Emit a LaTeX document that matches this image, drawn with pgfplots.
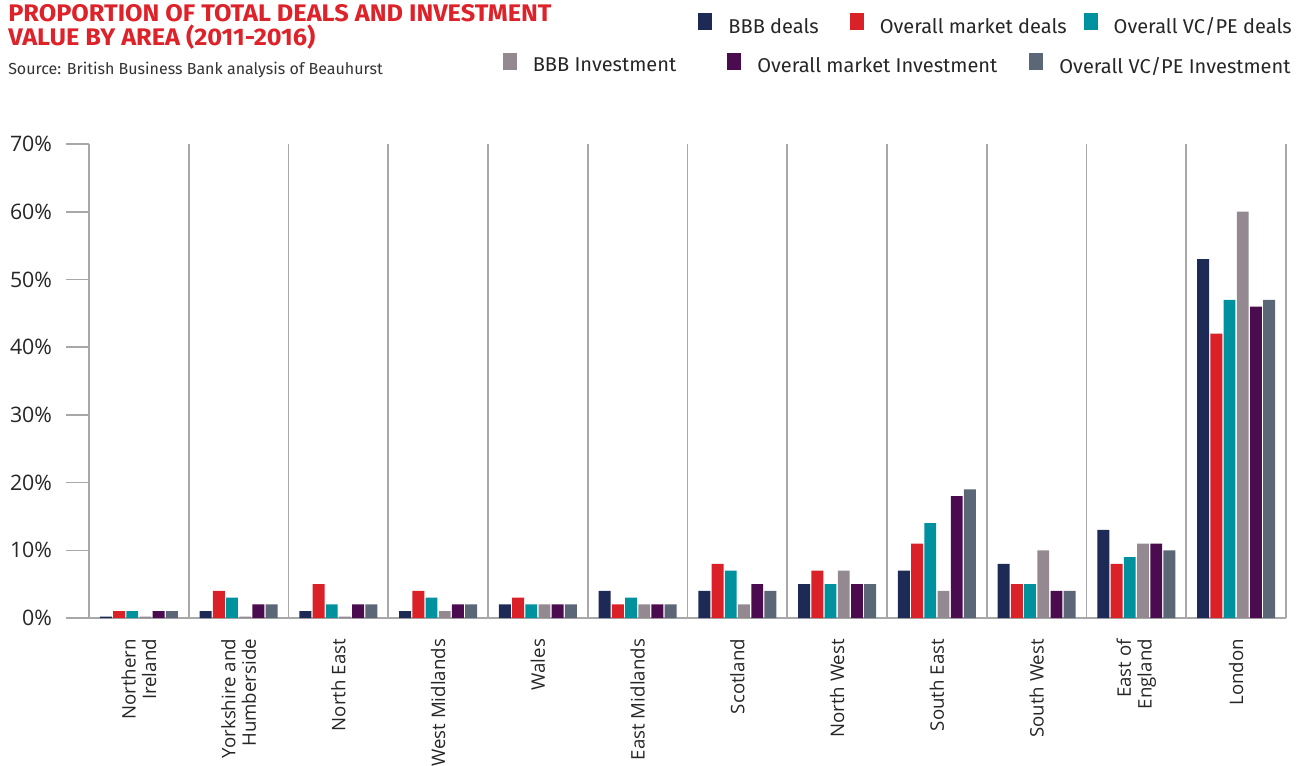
\documentclass[border=0pt]{standalone}
\usepackage{fontspec}
\setmainfont{Fira Sans}
\newfontfamily\opensans{Open Sans}
\usepackage{pgfplots}
\pgfplotsset{compat=1.18}
\definecolor{bbbdeals}{HTML}{1C2A55}
\definecolor{mktdeals}{HTML}{DA2128}
\definecolor{vcdeals}{HTML}{00919E}
\definecolor{bbbinv}{HTML}{948990}
\definecolor{mktinv}{HTML}{4A0C4F}
\definecolor{vcinv}{HTML}{5B6676}
\definecolor{titlered}{HTML}{DE2229}
\definecolor{axisgray}{HTML}{A8A8A8}
\pgfplotsset{
  sqlegend/.style={
    legend image code/.code={\fill[##1] (0pt,-2.8pt) rectangle (10.5pt,10pt);},
  },
}
\begin{document}
\begin{tikzpicture}
\useasboundingbox (0pt,0pt) rectangle (979.5pt,-573.75pt);
\node[anchor=base west, inner sep=0pt, font=\fontsize{18}{20}\selectfont\bfseries, text=titlered] at (6pt,-15.75pt) {\scalebox{1.055}[1]{PROPORTION OF TOTAL DEALS AND INVESTMENT}};
\node[anchor=base west, inner sep=0pt, font=\fontsize{18}{20}\selectfont\bfseries, text=titlered] at (6pt,-33.75pt) {\scalebox{1.055}[1]{VALUE BY AREA (2011-2016)}};
\node[anchor=base west, inner sep=0pt, font=\fontsize{12}{14}\selectfont, text=black!80] at (6pt,-55.5pt) {Source: British Business Bank analysis of Beauhurst};
\begin{axis}[
  at={(66.75pt,-463.5pt)}, anchor=south west,
  scale only axis, width=897.75pt, height=355.5pt,
  ybar=1pt, bar width=8.9pt,
  ymin=0, ymax=70, xmin=-0.5, xmax=11.5,
  enlargelimits=false,
  axis x line*=bottom, axis y line*=left,
  axis line style={draw=axisgray, line width=1.2pt},
  tick align=outside, major tick length=17.25pt,
  xtick={0,...,11},
  xticklabels={{Northern\\Ireland},{Yorkshire and\\Humberside},{North East},{West Midlands},{Wales},{East Midlands},{Scotland},{North West},{South East},{South West},{East of\\England},{London}},
  x tick label style={rotate=90, anchor=east, align=right, font=\opensans\fontsize{14}{15.5}\selectfont, text=black!85},
  xticklabel shift=-5pt,
  xtick style={draw=none},
  ytick={0,10,...,70},
  yticklabels={0\%,10\%,20\%,30\%,40\%,50\%,60\%,70\%},
  y tick label style={font=\opensans\fontsize{16}{18}\selectfont, text=black!85},
  yticklabel shift=7pt,
  ytick style={draw=axisgray, line width=1.2pt},
  extra x ticks={0.5,1.5,...,11.5},
  extra x tick labels={},
  extra x tick style={grid=major, major grid style={draw=axisgray, line width=1.2pt}, tick style={draw=none}},
  sqlegend,
  legend columns=3,
  legend style={at={(1.005,1.252)}, anchor=east, draw=none, fill=none, inner sep=0pt,
    font=\fontsize{15}{18}\selectfont, text=black!85, column sep=12pt,
    nodes={inner sep=0pt},
    /tikz/column 2/.style={column sep=23.25pt},
    /tikz/column 4/.style={column sep=12.75pt}},
]
\addplot[fill=bbbdeals, draw=none] coordinates {(0,0.2) (1,1) (2,1) (3,1) (4,2) (5,4) (6,4) (7,5) (8,7) (9,8) (10,13) (11,53)};
\addlegendentry{BBB deals}
\addplot[fill=mktdeals, draw=none] coordinates {(0,1) (1,4) (2,5) (3,4) (4,3) (5,2) (6,8) (7,7) (8,11) (9,5) (10,8) (11,42)};
\addlegendentry{Overall market deals}
\addplot[fill=vcdeals, draw=none] coordinates {(0,1) (1,3) (2,2) (3,3) (4,2) (5,3) (6,7) (7,5) (8,14) (9,5) (10,9) (11,47)};
\addlegendentry{Overall VC/PE deals}
\addplot[fill=bbbinv, draw=none] coordinates {(0,0.2) (1,0.2) (2,0.2) (3,1) (4,2) (5,2) (6,2) (7,7) (8,4) (9,10) (10,11) (11,60)};
\addplot[fill=mktinv, draw=none] coordinates {(0,1) (1,2) (2,2) (3,2) (4,2) (5,2) (6,5) (7,5) (8,18) (9,4) (10,11) (11,46)};
\addplot[fill=vcinv, draw=none] coordinates {(0,1) (1,2) (2,2) (3,2) (4,2) (5,2) (6,4) (7,5) (8,19) (9,4) (10,10) (11,47)};
\end{axis}
\begin{axis}[
  at={(66.75pt,-463.5pt)}, anchor=south west,
  scale only axis, width=897.75pt, height=355.5pt,
  hide axis, xmin=0, xmax=1, ymin=0, ymax=1,
  sqlegend,
  legend columns=3,
  legend style={at={(1.004,1.169)}, anchor=east, draw=none, fill=none, inner sep=0pt,
    font=\fontsize{15}{18}\selectfont, text=black!85, column sep=12pt,
    nodes={inner sep=0pt},
    /tikz/column 2/.style={column sep=38.25pt},
    /tikz/column 4/.style={column sep=24pt}},
]
\addlegendimage{fill=bbbinv, draw=none}
\addlegendentry{BBB Investment}
\addlegendimage{fill=mktinv, draw=none}
\addlegendentry{Overall market Investment}
\addlegendimage{fill=vcinv, draw=none}
\addlegendentry{Overall VC/PE Investment}
\end{axis}
\end{tikzpicture}
\end{document}
